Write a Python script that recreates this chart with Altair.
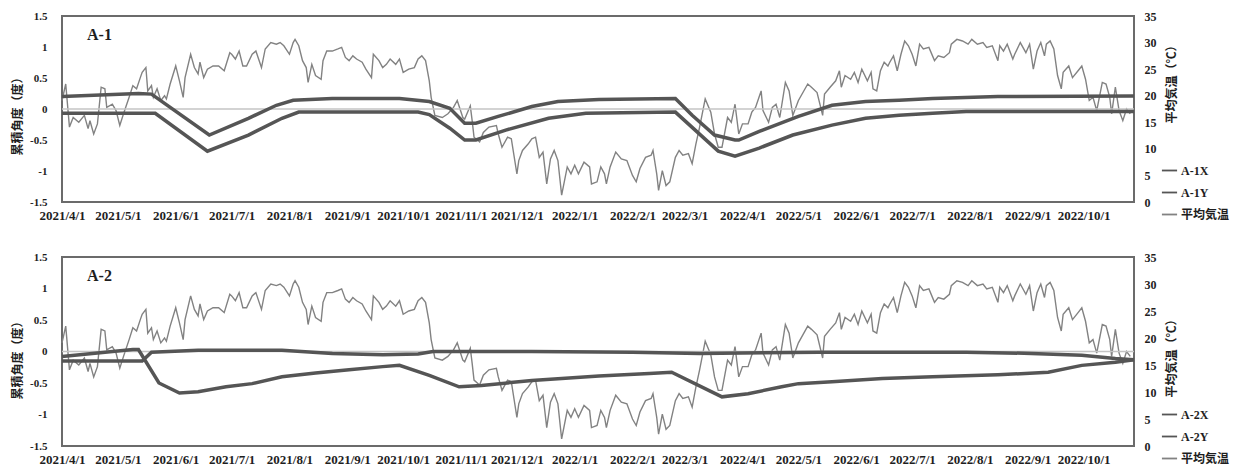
import altair as alt
import pandas as pd

# ---------------- data ----------------
START = "2021-04-01"
END = "2022-10-28"
panel_labels = ["A-1", "A-2"]
series_top = ["A-1X", "A-1Y", "平均気温"]
series_bottom = ["A-2X", "A-2Y", "平均気温"]
tick_months = [(2021, m) for m in range(4, 13)] + [(2022, m) for m in range(1, 11)]
left_ticks = [-1.5, -1, -0.5, 0, 0.5, 1, 1.5]
right_ticks = [0, 5, 10, 15, 20, 25, 30, 35]

# daily mean air temperature (days after 2021/4/1, degC)
temp_day = [0, 2, 4, 6, 9, 12, 14, 15, 17, 19, 21, 23, 24, 27, 29, 31, 33, 36, 38, 40,
            42, 43, 45, 46, 48, 49, 51, 53, 55, 56, 58, 61, 63, 65, 66, 69, 71, 73, 74, 76,
            78, 81, 84, 87, 90, 91, 93, 95, 97, 99, 102, 104, 107, 109, 112, 115, 117, 119, 122, 124,
            125, 127, 129, 131, 132, 134, 136, 139, 140, 142, 145, 148, 150, 152, 154, 156, 158, 161, 163, 166,
            167, 170, 172, 174, 176, 179,
            181, 183, 186, 189, 191, 193, 195, 197, 198, 200, 204, 207, 210, 212, 215, 216, 219, 220, 221, 224,
            226, 229, 233, 234, 236, 239, 241, 244, 245, 247, 250, 252, 254, 256, 258, 260, 262, 264, 266, 268,
            271, 273, 275, 277, 280, 283, 284, 287, 289, 291, 292, 294, 297, 300, 303, 306, 308, 310, 313, 316,
            317, 319, 320, 322, 324, 326, 329, 331, 333, 336, 338, 340, 342, 345, 348, 350, 352, 354, 357, 359,
            361, 363, 365, 368, 370, 372, 375, 376, 379, 381, 383, 385, 388, 390, 392, 395, 400, 402, 405,
            408, 409, 412, 415, 417, 418, 420, 423, 425, 427, 429, 432, 434, 435, 437, 439, 441, 443, 444, 446,
            448, 450, 452, 454, 456, 458, 460, 462, 465, 468, 470, 473, 476, 477, 480, 483, 486, 488, 491, 494,
            496, 499, 502, 503, 505, 507, 510, 511, 514, 517, 519, 521, 523, 525, 527, 528, 530, 532, 534, 536,
            537, 540, 542, 545, 547, 549, 551, 553, 555, 558, 560, 562, 563, 565, 567, 569, 571, 573]
temp_val = [19.1, 22.2, 14.1, 15.9, 15.0, 16.3, 13.8, 15.3, 12.8, 14.7, 21.6, 21.3, 17.8, 18.4, 17.2, 14.4, 16.6, 19.7, 21.9, 21.3,
            23.4, 24.4, 25.3, 20.9, 21.9, 19.7, 21.3, 19.1, 20.0, 19.4, 22.2, 25.6, 22.8, 19.7, 23.4, 27.8, 25.3, 24.1, 26.3, 23.4,
            25.0, 25.6, 25.6, 24.7, 28.1, 27.8, 26.9, 28.4, 25.6, 25.6, 27.8, 28.4, 25.3, 28.8, 30.0, 29.7, 30.0, 29.4, 27.8, 30.0,
            30.6, 29.4, 26.6, 25.3, 22.5, 25.9, 23.8, 23.1, 26.6, 28.4, 28.4, 28.8, 29.1, 27.2, 26.6, 27.5, 26.9, 26.3, 25.0, 23.4,
            27.8, 26.6, 25.3, 25.9, 26.9, 25.9,
            26.9, 24.4, 25.0, 25.3, 26.9, 27.5, 26.6, 22.8, 19.7, 16.3, 15.9, 16.6, 17.8, 19.1, 15.9, 15.6, 18.1, 15.3, 12.2, 11.3,
            13.1, 14.1, 14.4, 12.8, 10.3, 12.2, 11.9, 5.3, 7.8, 9.7, 10.9, 11.9, 12.2, 8.4, 9.4, 3.4, 8.1, 9.7, 7.8, 1.3,
            6.6, 5.3, 6.9, 5.3, 7.5, 6.6, 3.4, 3.8, 6.6, 5.3, 3.4, 6.6, 9.4, 8.1, 7.8, 5.0, 3.8, 6.3, 8.4, 8.8,
            9.7, 5.3, 2.2, 5.9, 3.1, 3.8, 8.4, 9.7, 8.8, 9.1, 7.2, 10.9, 14.1, 19.4, 16.9, 12.8, 10.3, 10.3, 15.9, 15.0,
            18.4, 12.8, 14.7, 14.7, 16.9, 17.8, 20.9, 17.2, 15.0, 17.8, 18.4, 15.9, 22.5, 20.9, 16.3, 19.1, 22.2, 21.6, 20.6,
            16.3, 20.3, 21.6, 22.8, 24.7, 21.6, 23.8, 23.1, 24.4, 22.5, 25.0, 22.8, 24.4, 21.3, 20.9, 24.7, 26.3, 25.6, 26.3, 27.5,
            24.7, 27.8, 30.3, 29.4, 27.8, 25.6, 29.7, 28.8, 29.1, 26.6, 27.5, 27.2, 28.1, 29.7, 30.6, 30.3, 29.7, 30.6, 29.7, 30.0,
            29.1, 29.4, 26.6, 29.4, 28.4, 29.7, 26.9, 27.8, 30.0, 28.1, 29.7, 25.0, 28.4, 30.0, 27.5, 29.7, 30.3, 28.8, 23.8, 21.3,
            24.4, 25.6, 23.4, 24.7, 25.6, 23.1, 19.1, 19.7, 17.2, 22.5, 22.2, 19.7, 16.6, 21.6, 17.2, 15.3, 17.5, 16.6]

# cumulative angle (deg), A-1
a1x_day = [0, 41, 48, 79, 100, 115, 124, 145, 181, 197, 208, 216, 222, 234, 252, 266, 288, 329, 338, 350,
           361, 363, 374, 388, 395, 413, 431, 449, 467, 502, 575]
a1x_val = [0.20, 0.25, 0.24, -0.42, -0.15, 0.06, 0.14, 0.17, 0.17, 0.12, 0.01, -0.23, -0.23, -0.12, 0.04, 0.12, 0.155, 0.17, -0.10, -0.42,
           -0.50, -0.50, -0.36, -0.20, -0.12, 0.06, 0.12, 0.14, 0.17, 0.20, 0.21]
a1y_day = [0, 50, 78, 100, 118, 127, 191, 197, 208, 216, 222, 238, 261, 281, 329, 352, 361, 374, 392, 413,
           431, 449, 467, 485, 575]
a1y_val = [-0.07, -0.07, -0.68, -0.42, -0.15, -0.05, -0.05, -0.09, -0.31, -0.50, -0.50, -0.34, -0.15, -0.07, -0.05, -0.68, -0.76, -0.63, -0.42, -0.26,
           -0.15, -0.10, -0.07, -0.04, -0.04]

# cumulative angle (deg), A-2
a2x_day = [0, 43, 48, 73, 118, 145, 172, 191, 199, 252, 306, 342, 406, 485, 520, 547, 565, 575]
a2x_val = [-0.15, -0.15, -0.01, 0.02, 0.02, -0.03, -0.05, -0.04, 0.0, 0.0, -0.01, -0.03, -0.01, -0.01, -0.03, -0.06, -0.11, -0.13]
a2y_day = [0, 38, 41, 52, 63, 73, 88, 102, 118, 136, 154, 172, 181, 197, 213, 225, 252, 288, 315, 327,
           354, 368, 386, 395, 413, 440, 467, 502, 529, 547, 565, 575]
a2y_val = [-0.08, 0.03, 0.03, -0.50, -0.66, -0.64, -0.56, -0.51, -0.40, -0.34, -0.29, -0.24, -0.22, -0.38, -0.56, -0.54, -0.46, -0.39, -0.35, -0.33,
           -0.72, -0.67, -0.56, -0.51, -0.48, -0.43, -0.40, -0.37, -0.33, -0.22, -0.17, -0.13]

# ---------------- styling ----------------
FONT = "Liberation Serif, Noto Sans CJK JP"
INK = "#1e1e1e"
ANGLE_C = "#555555"
TEMP_C = "#828282"
W = 1072


def to_dates(days):
    base = pd.Timestamp(START)
    return [base + pd.Timedelta(days=int(d)) for d in days]


def dt(s):
    t = pd.Timestamp(s)
    return alt.DateTime(year=t.year, month=t.month, date=t.day)


x_scale = alt.Scale(domain=[dt(START), dt(END)])
x_axis = alt.Axis(
    values=[alt.DateTime(year=y, month=m, date=1) for y, m in tick_months],
    format="%Y/%-m/%-d", title=None, labelFont=FONT, labelFontSize=13,
    labelFontWeight="bold", labelColor=INK, labelFlush=False, labelOverlap=False,
    ticks=False, domain=False, grid=False, labelPadding=7,
)
left_scale = alt.Scale(domain=[-1.5, 1.5], nice=False, zero=False)


def left_axis(title_y):
    return alt.Axis(
        values=left_ticks, labelExpr="toString(datum.value)", title="累積角度（度）",
        titleFont=FONT, titleFontSize=12, titleFontWeight="bold", titleColor=INK,
        titleAngle=270, titleX=-45, titleY=title_y, titleAlign="center",
        titleBaseline="middle", labelPadding=15, labelFont=FONT, labelFontSize=11,
        labelFontWeight="bold", labelColor=INK, ticks=False, domain=False, grid=False,
    )


def right_axis(title_y):
    return alt.Axis(
        orient="right", values=right_ticks, labelExpr="toString(datum.value)",
        title="平均気温（℃）", titleAngle=270, titleX=37, titleY=title_y,
        titleAlign="center", titleBaseline="middle",
        titleFont=FONT, titleFontSize=12, titleFontWeight="bold", titleColor=INK,
        labelPadding=10, labelFont=FONT, labelFontSize=12,
        labelFontWeight="bold", labelColor=INK, ticks=False, domain=False, grid=False,
    )


def panel(label, names, xd, xv, yd, yv, height, legend_y, ltitle_y, rtitle_y):
    df_angle = pd.concat([
        pd.DataFrame({"date": to_dates(xd), "value": xv, "series": names[0]}),
        pd.DataFrame({"date": to_dates(yd), "value": yv, "series": names[1]}),
    ])
    df_temp = pd.DataFrame({"date": to_dates(temp_day), "value": temp_val, "series": names[2]})
    color = alt.Color(
        "series:N",
        scale=alt.Scale(domain=names, range=[ANGLE_C, ANGLE_C, TEMP_C]),
        legend=alt.Legend(
            orient="none", legendX=1099, legendY=legend_y, title=None,
            symbolType="stroke", symbolSize=230, symbolStrokeWidth=1.8,
            labelFont=FONT, labelFontSize=12, labelFontWeight="bold",
            labelColor=INK, rowPadding=7, labelOffset=3,
        ),
    )
    x = alt.X("date:T", scale=x_scale, axis=x_axis)
    laxis = left_axis(ltitle_y)

    zero = alt.Chart(pd.DataFrame({"v": [0]})).mark_rule(
        color="#c4c4c4", strokeWidth=1.5
    ).encode(y=alt.Y("v:Q", scale=left_scale, axis=laxis))
    angle = alt.Chart(df_angle).mark_line(strokeWidth=3.5).encode(
        x=x, y=alt.Y("value:Q", scale=left_scale, axis=laxis),
        color=color, detail="series:N",
    )
    text = alt.Chart(pd.DataFrame({"label": [label]})).mark_text(
        align="left", baseline="middle", font=FONT, fontSize=16,
        fontWeight="bold", color=INK,
    ).encode(x=alt.value(25), y=alt.value(19), text="label:N")
    temp = alt.Chart(df_temp).mark_line(strokeWidth=1.4).encode(
        x=x, y=alt.Y("value:Q", scale=alt.Scale(domain=[0, 35], nice=False, zero=False),
                     axis=right_axis(rtitle_y)),
        color=color,
    )
    left = alt.layer(zero, angle, text)
    return alt.layer(temp, left).resolve_scale(y="independent").properties(width=W, height=height)


top = panel(panel_labels[0], series_top, a1x_day, a1x_val, a1y_day, a1y_val, 186, 146, 97, 65)
bottom = panel(panel_labels[1], series_bottom, a2x_day, a2x_val, a2y_day, a2y_val, 189, 149, 100, 98)

chart = (
    alt.vconcat(top, bottom, spacing=27)
    .resolve_scale(color="independent")
    .resolve_legend(color="independent")
    .properties(padding={"left": 2, "top": 1, "right": 0, "bottom": 0})
    .configure_view(stroke="#6b6b6b", strokeWidth=2)
)

chart.save("out.html", embed_options={"renderer": "svg", "actions": False})
